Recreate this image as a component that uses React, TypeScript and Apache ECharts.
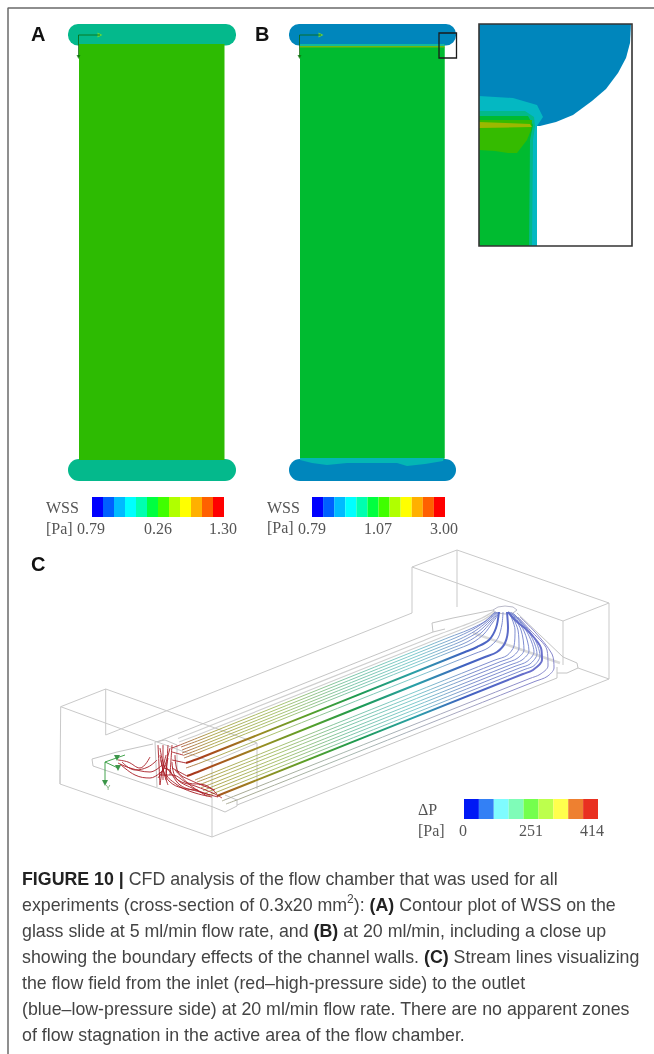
import React, { useEffect, useRef } from "react";
import * as echarts from "echarts";

type P = number[];

// ---- text ----
const captionLines = [
  "{b|FIGURE 10 |} CFD analysis of the flow chamber that was used for all",
  "experiments (cross-section of 0.3x20 mm{s|2}): {b|(A)} Contour plot of WSS on the",
  "glass slide at 5 ml/min flow rate, and {b|(B)} at 20 ml/min, including a close up",
  "showing the boundary effects of the channel walls. {b|(C)} Stream lines visualizing",
  "the flow field from the inlet (red–high-pressure side) to the outlet",
  "(blue–low-pressure side) at 20 ml/min flow rate. There are no apparent zones",
  "of flow stagnation in the active area of the flow chamber.",
];
const ticksA = ["0.79", "0.26", "1.30"];
const ticksB = ["0.79", "1.07", "3.00"];
const ticksC = ["0", "251", "414"];

// ---- colour scales ----
const wssColors = ["#0000ff", "#0060ff", "#00bbff", "#00ffff", "#00ffb0", "#00ff40", "#40ff00", "#b0ff00", "#ffff00", "#ffb000", "#ff6000", "#ff0000"];
const pressureColors = ["#0018f5", "#3380f5", "#7ffcff", "#7ffcb8", "#74ff4d", "#bdff4d", "#ffff4d", "#ee8030", "#e93020"];

// ---- geometry of the slides: x0, y0, x1, y1, radius, fill ----
const slideA: any[][] = [
  [68, 24, 236, 45.5, 10, "#04b98c"],
  [68, 459, 236, 481, 11, "#04b98c"],
  [79, 44, 224.5, 460, 0, "#2dbb02"],
];
const slideB: any[][] = [
  [289, 24, 456, 45.5, 10, "#0086bc"],
  [289, 459, 456, 481, 11, "#0086bc"],
  [300, 44, 444.5, 460, 0, "#00bb30"],
];
const stripB: any[][] = [
  [300, 44, 444.5, 46, 0, "#10b8a0"],
  [300, 46, 444.5, 47.5, 0, "#70b810"],
];
const waveB: P[] = [[300, 458], [444, 458], [443, 461], [425, 464], [407, 466], [397, 463], [375, 463], [347, 463], [327, 465], [312, 463], [300, 460]];

// ---- close-up polygons ----
const insetBlue: P[] = [[479, 24], [631, 24], [630, 43], [626, 58], [618, 73], [606, 89], [592, 101], [573, 115], [556, 122], [540, 126], [479, 126]];
const insetTeal: P[] = [[479, 96], [513, 98], [537, 105], [543, 117], [537, 126], [537, 246], [479, 246]];
const insetMid: P[] = [[479, 111], [525, 111], [534, 117], [535, 126], [533, 140], [532, 246], [479, 246]];
const insetGreen: P[] = [[479, 116], [528, 116], [533, 125], [530, 140], [529, 246], [479, 246]];
const insetOlive: P[] = [[479, 120], [532, 120], [531, 130], [527, 140], [517, 153], [508, 153], [495, 151], [479, 150]];
const insetStrip: P[] = [[479, 122], [530, 124], [532, 127], [479, 128]];

// ---- wire boxes of panel C ----
const wireBoxes: P[][] = [
  [[60.7, 706.7], [105.7, 689], [257, 743], [212, 762], [60.7, 706.7], [60, 784], [212, 837], [212, 762]],
  [[105.7, 689], [105.7, 735], [412, 613], [412, 567], [457, 550], [609, 603], [563, 621], [412, 567]],
  [[257, 743], [257, 789]],
  [[212, 837], [609, 679], [609, 603]],
  [[457, 550], [457, 607]],
  [[563, 621], [563, 665]],
  [[609, 679], [578, 668]],
  [[60, 770], [60, 784]],
];
// ---- chamber outline ----
const chamber: P[][] = [
  [[92, 759], [117, 752], [153, 744]],
  [[92, 759], [93, 766], [213, 807], [225, 812], [237, 806], [237, 800], [225, 795]],
  [[157, 742], [433, 632]],
  [[237, 805], [557, 678], [557, 667]],
  [[155, 742], [157, 787]],
  [[177, 745], [177, 773]],
  [[155, 742], [165, 740], [177, 745]],
  [[432, 623], [433, 632], [445, 629]],
  [[432, 623], [453, 618], [493, 610]],
  [[517, 613], [563, 657], [577, 663], [578, 668], [567, 673], [557, 673]],
];
const outletBand: P[] = [[473, 633], [560, 663]];
const outletPort: P[] = [[493, 610], [498, 607], [505, 606], [513, 607], [517, 610], [513, 613], [505, 614], [497, 613], [493, 610]];

// ---- stream lines, inlet to outlet ----
const edgeLines: P[][] = [
  [[178, 738.5], [200, 729.7], [420, 642], [440, 634], [462, 626], [482, 618], [494, 611]],
  [[179, 742], [200, 734], [425, 644], [445, 636], [465, 628], [483, 620], [495, 612]],
];
const upperBundle: P[][] = [
  [[180, 745], [200, 737], [430, 645], [450, 637], [468, 630], [484, 622], [495, 612]],
  [[181, 747], [200, 740], [435, 646], [455, 638], [472, 630], [486, 621], [496, 612]],
  [[182, 750], [200, 743], [440, 647], [460, 639], [475, 631], [488, 621], [497, 612]],
  [[182, 753], [200, 746], [445, 648], [462, 641], [478, 632], [490, 621], [498, 612]],
  [[183, 755.5], [200, 749], [450, 649], [467, 642], [481, 633], [491, 622], [499, 612]],
  [[184, 758], [200, 752], [455, 650], [472, 643], [484, 634], [493, 622], [500, 612]],
  [[186, 768], [200, 763], [475, 653.5], [488, 648], [498, 638], [502, 624], [503, 612]],
];
const thickLines: P[][] = [
  [[186, 763], [200, 758], [465, 652], [477, 647], [489, 640], [496, 628], [499, 612]],
  [[187, 776], [200, 771], [485, 657], [497, 652], [505, 643], [508, 628], [507, 612]],
  [[217, 796], [230, 790.8], [523, 674], [533, 670], [542, 660], [541, 648], [530, 633], [515, 620], [508, 612]],
];
const lowerBundle: P[][] = [
  [[195, 780], [210, 774], [495, 660], [507, 655.5], [514, 646], [515, 630], [509, 612]],
  [[197, 782], [212, 776.4], [500, 661.8], [512, 657], [519, 648], [518, 630], [510, 612]],
  [[199, 785], [214, 779], [505, 663.3], [517, 658.5], [524, 650], [521, 630], [511, 612]],
  [[201, 787.8], [216, 782], [510, 665], [522, 660], [529, 651], [524, 631], [512, 613]],
  [[203, 790.5], [218, 784.5], [515, 666.3], [527, 661.5], [534, 652], [527, 632], [513, 613]],
  [[205, 793], [220, 787], [520, 667.8], [530, 664], [537, 654], [530, 634], [514, 614]],
  [[207, 796], [222, 790], [525, 669.3], [534, 665.7], [540, 656], [533, 636], [515, 615]],
];
const bottomLines: P[][] = [
  [[222, 801], [235, 795.8], [530, 678.4], [540, 674.4], [548, 666], [547, 650], [530, 630], [518, 617]],
  [[226, 804], [240, 798.8], [535, 681.4], [547, 676.6], [554, 668], [552, 654], [535, 632], [520, 617]],
];
const redLoops: P[][] = [
  [[158, 745], [159, 765], [160, 785]], [[163, 745], [163, 765], [163, 780]],
  [[168, 745], [167, 762], [166, 780]], [[172, 745], [171, 760], [170, 775]],
  [[160, 748], [165, 768], [170, 770]], [[170, 748], [164, 768], [158, 778]],
  [[162, 765], [150, 772], [130, 768], [118, 763]],
  [[165, 768], [150, 778], [135, 775], [120, 764]],
  [[150, 757], [140, 768], [128, 762], [118, 760]],
  [[157, 760], [148, 767], [135, 770], [122, 762]],
  [[165, 765], [178, 780], [195, 786], [215, 794], [222, 798]],
  [[170, 770], [180, 785], [200, 792], [218, 797]],
  [[175, 755], [178, 772], [190, 780], [215, 790]],
  [[172, 762], [176, 778], [192, 788], [210, 795]],
  [[160, 775], [172, 775], [188, 783], [205, 785], [217, 794]],
  [[172, 748], [180, 745]], [[172, 752], [183, 755]], [[172, 760], [186, 763]],
  [[172, 768], [187, 776]], [[175, 770], [190, 785], [207, 796]],
  [[160, 755], [163, 770], [168, 785]], [[166, 755], [162, 772], [160, 785]],
  [[161, 760], [164, 772], [170, 782], [182, 788], [198, 790]],
  [[168, 758], [166, 772], [176, 784], [192, 792], [212, 797]],
];
const axesC: P[][] = [
  [[105, 783], [105, 762], [125, 755]],
  [[105, 762], [118, 768]],
];
const arrowsC: P[] = [[105, 783], [117, 758], [118, 768]];
const axesA: P[][] = [[[100, 35], [78.5, 35], [78.5, 57]]];
const axesB: P[][] = [[[321, 35], [299.5, 35], [299.5, 57]]];
const arrowsAB: P[] = [[100, 35], [321, 35]];
const arrowsDown: P[] = [[78.5, 57], [299.5, 57]];
const pageFrame: P[] = [[8, 1054], [8, 8], [654, 8]];

// ---- helpers ----
const rectSeries = (rects: any[][]) => ({
  type: "custom",
  silent: true,
  clip: false,
  data: rects.map((r) => [r[0], r[1]]),
  renderItem: (p: any, api: any) => {
    const r = rects[p.dataIndex];
    const a = api.coord([r[0], r[1]]);
    const b = api.coord([r[2], r[3]]);
    return {
      type: "rect",
      shape: { x: a[0], y: a[1], width: b[0] - a[0], height: b[1] - a[1], r: r[4] },
      style: r[5] === "none" ? { fill: "none", stroke: r[6], lineWidth: r[7] } : { fill: r[5] },
    };
  },
});
const polySeries = (pts: P[], fill: string) => ({
  type: "custom",
  silent: true,
  clip: false,
  data: pts,
  renderItem: (p: any, api: any) =>
    p.dataIndex === 0
      ? { type: "polygon", shape: { points: pts.map((q) => api.coord(q)) }, style: { fill } }
      : null,
});
const lineSeries = (pts: P[], color: any, width: number, opacity = 1, smooth: number | boolean = 0) => ({
  type: "line",
  silent: true,
  clip: false,
  symbol: "none",
  smooth,
  data: pts,
  lineStyle: { color, width, opacity },
});
const colorBar = (x0: number, x1: number, y0: number, y1: number, cols: string[]) =>
  rectSeries(cols.map((c, i) => [x0 + ((x1 - x0) * i) / cols.length, y0, x0 + ((x1 - x0) * (i + 1)) / cols.length, y1, 0, c]));

const arrowSeries = (pts: P[], rotate: number, color: string, size: number) => ({
  type: "scatter",
  silent: true,
  clip: false,
  symbol: "triangle",
  symbolRotate: rotate,
  symbolSize: size,
  data: pts,
  itemStyle: { color },
});

const serifText = (x: number, y: number, text: string, align = "left") => ({
  type: "text",
  x,
  y,
  silent: true,
  style: { text, x: 0, y: 0, align, verticalAlign: "middle", fill: "#555", fontFamily: "Liberation Serif", fontSize: 16 },
});
const panelLabel = (x: number, y: number, text: string) => ({
  type: "text",
  x,
  y,
  silent: true,
  style: { text, verticalAlign: "middle", fill: "#111", fontFamily: "Liberation Sans", fontWeight: "bold", fontSize: 20 },
});
const tinyText = (x: number, y: number, text: string, fill: string) => ({
  type: "text",
  x,
  y,
  silent: true,
  style: { text, verticalAlign: "middle", align: "center", fill, fontFamily: "Liberation Sans", fontSize: 7 },
});

export default function App() {
  const ref = useRef<HTMLDivElement>(null);
  useEffect(() => {
    document.body.style.margin = "0";
    const chart = echarts.init(ref.current!, undefined, { renderer: "svg" });
    const flow = new echarts.graphic.LinearGradient(
      170, 0, 530, 0,
      [
        { offset: 0, color: "#a81c1c" },
        { offset: 0.12, color: "#a8501c" },
        { offset: 0.25, color: "#9a8c22" },
        { offset: 0.38, color: "#5aa028" },
        { offset: 0.52, color: "#1c9a50" },
        { offset: 0.68, color: "#2aa0a8" },
        { offset: 0.82, color: "#4060c0" },
        { offset: 1, color: "#6a70cc" },
      ],
      true
    );
    const lightFlow = new echarts.graphic.LinearGradient(
      170, 0, 530, 0,
      [
        { offset: 0, color: "#a84030" },
        { offset: 0.12, color: "#a8a040" },
        { offset: 0.3, color: "#a0bc60" },
        { offset: 0.5, color: "#70c0a0" },
        { offset: 0.68, color: "#70c4c8" },
        { offset: 0.85, color: "#7080c8" },
        { offset: 1, color: "#7080cc" },
      ],
      true
    );
    const greyFlow = new echarts.graphic.LinearGradient(
      170, 0, 530, 0,
      [
        { offset: 0, color: "#b04040" },
        { offset: 0.15, color: "#a8a890" },
        { offset: 0.5, color: "#a8b8b0" },
        { offset: 0.8, color: "#a8a8c0" },
        { offset: 1, color: "#8888cc" },
      ],
      true
    );
    const series: any[] = [
      lineSeries(pageFrame, "#6a6a6a", 1.5),
      ...slideA.map((r) => rectSeries([r])),
      ...axesA.map((l) => lineSeries(l, "#0a6a0a", 0.8)),
      ...slideB.map((r) => rectSeries([r])),
      polySeries(waveB, "#04b6b4"),
      rectSeries([[300, 47, 444.5, 458, 0, "#00bb30"]]),
      rectSeries(stripB),
      ...axesB.map((l) => lineSeries(l, "#0a6a0a", 0.8)),
      arrowSeries(arrowsAB, -90, "#7ee02a", 5),
      arrowSeries(arrowsDown, 180, "#0a7a0a", 4),
      rectSeries([[439, 33, 456.5, 58, 0, "none", "#1a1a1a", 1.3]]),
      colorBar(92, 224, 497, 517, wssColors),
      colorBar(312, 445, 497, 517, wssColors),
      colorBar(464, 598, 799, 819, pressureColors),
      polySeries(insetBlue, "#0086bc"),
      polySeries(insetTeal, "#04b8c2"),
      polySeries(insetMid, "#02b98a"),
      polySeries(insetGreen, "#00bb30"),
      polySeries(insetOlive, "#35bb00"),
      polySeries(insetStrip, "#9cb800"),
      rectSeries([[479, 24, 632, 246, 0, "none", "#333", 1.6]]),
      ...wireBoxes.map((l) => lineSeries(l, "#c9c9c9", 1)),
      ...chamber.map((l) => lineSeries(l, "#c4c4c4", 1)),
      lineSeries(outletBand, "#dadada", 2.5),
      lineSeries(outletPort, "#b8b8c8", 1),
      ...edgeLines.map((l) => lineSeries(l, "#cfcfcf", 1.2, 1, 0.3)),
      ...upperBundle.map((l) => lineSeries(l, lightFlow, 0.9, 1, 0.3)),
      ...lowerBundle.map((l) => lineSeries(l, lightFlow, 0.9, 1, 0.3)),
      ...bottomLines.map((l) => lineSeries(l, greyFlow, 1, 1, 0.3)),
      ...thickLines.map((l) => lineSeries(l, flow, 2, 1, 0.3)),
      ...redLoops.map((l) => lineSeries(l, "#a81c24", 0.9, 1, 0.4)),
      ...axesC.map((l) => lineSeries(l, "#2f9a3a", 0.9)),
      arrowSeries(arrowsC, 180, "#127a22", 6),
    ];
    const graphicEls: any[] = [
      panelLabel(31, 34, "A"),
      panelLabel(255, 34, "B"),
      panelLabel(31, 564, "C"),
      tinyText(107, 35, "x", "#9ac79a"),
      tinyText(328, 35, "x", "#9ac79a"),
      tinyText(81, 60, "z", "#4a8a4a"),
      tinyText(302, 60, "z", "#4a8a4a"),
      tinyText(108, 787, "Y", "#6aa06a"),
      serifText(46, 507, "WSS"),
      serifText(46, 528, "[Pa]"),
      serifText(91, 528, ticksA[0], "center"),
      serifText(158, 528, ticksA[1], "center"),
      serifText(223, 528, ticksA[2], "center"),
      serifText(267, 507, "WSS"),
      serifText(267, 527, "[Pa]"),
      serifText(312, 528, ticksB[0], "center"),
      serifText(378, 528, ticksB[1], "center"),
      serifText(444, 528, ticksB[2], "center"),
      serifText(418, 809, "ΔP"),
      serifText(418, 830, "[Pa]"),
      serifText(463, 830, ticksC[0], "center"),
      serifText(531, 830, ticksC[1], "center"),
      serifText(592, 830, ticksC[2], "center"),
      ...captionLines.map((text, i) => ({
        type: "text",
        x: 22,
        y: 879 + i * 26,
        silent: true,
        style: {
          text,
          verticalAlign: "middle",
          fill: "#444",
          fontFamily: "Liberation Sans",
          fontSize: 17.8,
          rich: {
            b: { fontFamily: "Liberation Sans", fontWeight: "bold", fontSize: 17.8, fill: "#222" },
            s: { fontFamily: "Liberation Sans", fontSize: 12, fill: "#444", verticalAlign: "top", lineHeight: 24 },
          },
        },
      })),
    ];
    chart.setOption({
      animation: false,
      backgroundColor: "#ffffff",
      grid: { left: 0, top: 0, right: 0, bottom: 0 },
      xAxis: { type: "value", min: 0, max: 654, show: false },
      yAxis: { type: "value", min: 0, max: 1054, inverse: true, show: false },
      graphic: { elements: graphicEls },
      series,
    });
    return () => chart.dispose();
  }, []);
  return (
    <div
      ref={ref}
      style={{ position: "absolute", left: 0, top: 0, width: 654, height: 1054, filter: "blur(0.4px)" }}
    />
  );
}
